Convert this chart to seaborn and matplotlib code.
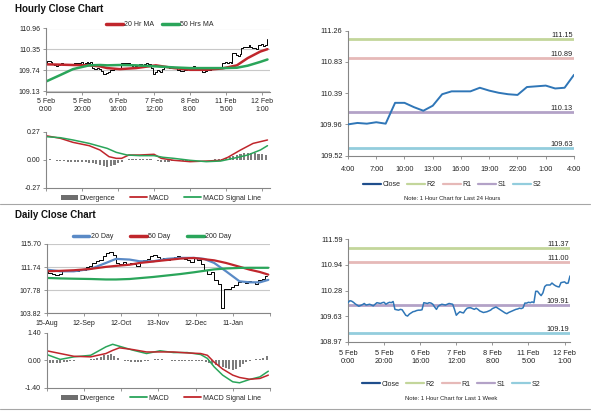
import numpy as np
import pandas as pd
import matplotlib
matplotlib.use("Agg")
import matplotlib.pyplot as plt
import matplotlib.transforms as mtrans
import seaborn as sns
from matplotlib.lines import Line2D
from matplotlib.patches import Patch

sns.set_theme(style="white")
plt.rcParams['font.family'] = ['Liberation Sans', 'DejaVu Sans']

# ---------------- hourly data: 5 Feb 0:00 .. 12 Feb 4:00 ----------------
hourly_close = [
    109.97, 110.02, 110.01, 109.98, 109.94, 109.91, 109.88, 109.90, 109.92, 109.95,
    109.91, 109.92, 109.93, 109.91, 109.89, 109.93, 109.97, 109.96, 109.95, 109.97,
    109.98, 109.93, 109.96, 109.98, 109.97, 110.00, 109.80, 109.79, 109.78, 109.80,
    109.79, 109.72, 109.65, 109.63, 109.68, 109.71, 109.74, 109.75, 109.77, 109.78,
    109.78, 109.79, 109.97, 109.96, 109.95, 109.97, 109.96, 109.93, 109.86, 109.80,
    109.88, 109.91, 109.93, 109.92, 109.91, 109.93, 109.95, 109.94, 109.93, 109.80,
    109.65, 109.70, 109.74, 109.72, 109.71, 109.78, 109.83, 109.84, 109.84, 109.82,
    109.80, 109.83, 109.80, 109.76, 109.74, 109.72, 109.73, 109.74, 109.76, 109.78,
    109.82, 109.84, 109.86, 109.83, 109.80, 109.77, 109.74, 109.71, 109.69, 109.72,
    109.74, 109.76, 109.78, 109.80, 109.81, 109.83, 109.82, 109.84, 109.96, 109.96,
    109.98, 109.97, 109.99, 109.97, 110.26, 110.26, 110.20, 110.15, 110.22, 110.38,
    110.42, 110.42, 110.42, 110.47, 110.43, 110.40, 110.38, 110.37, 110.48, 110.49,
    110.50, 110.46, 110.47, 110.65]
hourly_ticks = ["5 Feb\n0:00", "5 Feb\n20:00", "6 Feb\n16:00", "7 Feb\n12:00",
                "8 Feb\n8:00", "11 Feb\n5:00", "12 Feb\n1:00"]

hr_ma_idx = [0, 8, 15, 24, 30, 34, 41, 50, 61, 71, 80, 89, 98, 106, 112, 119, 123]
hr_ma20 = [109.92, 109.91, 109.90, 109.89, 109.86, 109.81, 109.78, 109.81, 109.89,
           109.81, 109.76, 109.76, 109.80, 109.89, 110.10, 110.29, 110.36]
hr_ma50 = [109.42, 109.61, 109.78, 109.89, 109.90, 109.89, 109.90, 109.89, 109.86,
           109.83, 109.81, 109.81, 109.81, 109.82, 109.88, 109.99, 110.06]

hr_macd_idx = [0, 8, 15, 24, 30, 35, 39, 42, 46, 52, 60, 64, 71, 80, 89, 97, 101, 108, 115, 123]
hr_macd = [0.234, 0.209, 0.170, 0.138, 0.096, 0.032, 0.016, 0.016, 0.048, 0.048,
           0.055, 0.016, -0.003, -0.016, -0.010, -0.003, 0.026, 0.096, 0.160, 0.193]
hr_sig_idx = [0, 8, 15, 24, 34, 39, 45, 52, 60, 65, 71, 80, 89, 97, 104, 112, 119, 123]
hr_sig = [0.225, 0.215, 0.193, 0.160, 0.112, 0.074, 0.048, 0.042, 0.042, 0.026,
          0.016, -0.003, -0.016, -0.010, 0.016, 0.048, 0.096, 0.138]
# divergence, every second hour
hr_div = [0.010, 0.010, 0.000, -0.005, -0.010, -0.012, -0.015, -0.018, -0.020, -0.020,
          -0.022, -0.022, -0.025, -0.030, -0.040, -0.050, -0.060, -0.065, -0.055, -0.045,
          -0.030, -0.015, 0.000, 0.005, 0.005, 0.006, 0.006, 0.008, 0.010, 0.010,
          0.000, -0.010, -0.015, -0.018, -0.015, -0.012, -0.010, -0.010, -0.010, -0.008,
          -0.006, -0.004, -0.003, -0.002, 0.000, 0.002, 0.003, 0.005, 0.006, 0.010,
          0.015, 0.025, 0.035, 0.045, 0.055, 0.065, 0.070, 0.072, 0.068, 0.062,
          0.058, 0.050]

day_ticks = ["4:00", "7:00", "10:00", "13:00", "16:00", "19:00", "22:00", "1:00", "4:00"]
day_levels = {"R2": 111.15, "R1": 110.89, "S1": 110.13, "S2": 109.63}
week_levels = {"R2": 111.37, "R1": 111.00, "S1": 109.91, "S2": 109.19}

# ---------------- daily data: 15 Aug .. Feb, every second trading day ----------------
daily_close = [
    111.0, 110.8, 110.5, 110.3, 110.6, 111.2, 111.1, 111.3, 111.2, 111.1,
    111.4, 111.2, 111.8, 112.0, 112.4, 112.8, 113.0, 113.6, 114.1, 114.4,
    113.8, 112.4, 112.2, 112.6, 112.3, 112.5, 112.2, 111.9, 112.6, 112.9,
    113.2, 113.6, 113.8, 113.5, 113.1, 113.3, 112.9, 113.2, 113.5, 113.7,
    113.5, 113.2, 113.0, 112.6, 113.3, 113.0, 112.3, 111.3, 110.6, 110.9,
    109.6, 108.9, 104.8, 108.0, 107.9, 108.3, 108.6, 109.2, 109.3, 109.0,
    109.4, 109.2, 108.9, 109.5, 109.7, 110.2]
daily_ticks = ["15-Aug", "12-Sep", "12-Oct", "13-Nov", "12-Dec", "11-Jan", ""]

d_ma_idx = [0, 8, 16, 26, 35, 41, 49, 55, 63, 71, 79, 87, 93, 99, 106, 114, 120, 126, 131]
d_ma20 = [111.31, 111.02, 111.02, 111.43, 112.45, 113.15, 113.03, 112.74, 112.74, 113.15,
          113.32, 113.32, 113.15, 112.45, 111.02, 109.30, 109.13, 109.13, 109.55]
d_ma50 = [111.02, 111.10, 111.20, 111.43, 111.78, 111.95, 112.15, 112.45, 112.70, 112.95,
          113.20, 113.30, 113.10, 112.90, 112.45, 111.80, 111.30, 110.90, 110.45]
d_ma200 = [109.88, 109.80, 109.75, 109.70, 109.62, 109.62, 109.70, 109.85, 110.05, 110.30,
           110.55, 110.85, 111.10, 111.35, 111.50, 111.60, 111.62, 111.62, 111.62]

d_macd_idx = [0, 8, 16, 26, 35, 39, 43, 51, 59, 67, 75, 83, 91, 95, 99, 104, 110, 114, 120, 126, 131]
d_macd = [0.29, 0.04, 0.17, 0.25, 0.68, 0.81, 0.71, 0.51, 0.34, 0.48, 0.39, 0.39, 0.29,
          0.09, -0.34, -0.76, -1.10, -1.15, -0.98, -0.85, -0.56]
d_sig = [0.48, 0.34, 0.20, 0.17, 0.34, 0.50, 0.63, 0.54, 0.42, 0.42, 0.42, 0.37, 0.34,
         0.25, -0.10, -0.45, -0.76, -0.88, -0.97, -0.93, -0.76]
d_div = [-0.10, -0.15, -0.15, -0.14, -0.12, -0.10, -0.07, -0.04, -0.02, 0.00,
         0.01, 0.02, 0.03, 0.05, 0.08, 0.12, 0.18, 0.24, 0.28, 0.30,
         0.22, 0.10, 0.02, -0.03, -0.05, -0.07, -0.08, -0.08, -0.07, -0.05,
         -0.02, 0.02, 0.04, 0.05, 0.04, 0.02, 0.00, -0.02, -0.03, -0.03,
         -0.02, -0.02, -0.03, -0.04, -0.03, -0.04, -0.05, -0.08, -0.12, -0.18,
         -0.25, -0.30, -0.35, -0.40, -0.45, -0.48, -0.45, -0.35, -0.20, -0.08,
         -0.02, 0.02, 0.04, 0.06, 0.12, 0.20]

# ---------------- style ----------------
RED = "#c0262c"
GREEN = "#2aa55a"
BLUE20 = "#5a8ac6"
CLOSE = "#2f76b7"
DIVC = "#7d7d7d"
LEVEL_COLORS = {"R2": "#c3d69b", "R1": "#e6b9b8", "S1": "#b3a2c7", "S2": "#93cddd"}
SPINE = "#868686"
GRID = "#c8c8c8"
FS = 5

W, H = 600, 413
fig = plt.figure(figsize=(6, 4.13), dpi=100)
fig.patch.set_facecolor("white")


def px_axes(l, t, r, b):
    return fig.add_axes([l / W, 1 - b / H, (r - l) / W, (b - t) / H])


def style(ax, grid=False, fs=FS, xpad=1.5):
    for s in ["top", "right"]:
        ax.spines[s].set_visible(False)
    for s in ["left", "bottom"]:
        ax.spines[s].set_color(SPINE)
        ax.spines[s].set_linewidth(0.8)
    ax.tick_params(axis="both", which="both", bottom=True, left=True, direction="out",
                   length=2.5, width=0.6, color=SPINE, labelsize=fs, pad=1.5,
                   labelcolor="#222222")
    ax.tick_params(axis="x", pad=xpad)
    if grid:
        ax.grid(axis="y", color=GRID, lw=0.8)
        ax.set_axisbelow(True)
    ax.set_facecolor("white")
    ax.set_xlabel("")
    ax.set_ylabel("")


def set_yt(ax, ticks):
    ax.set_yticks(ticks)
    ax.set_yticklabels([f"{t:.2f}" for t in ticks])


def legend(handles, labels, cx, cy, ncol, hl=2.4, cs=1.2):
    fig.legend(handles, labels, loc="center", bbox_to_anchor=(cx / W, 1 - cy / H),
               ncol=ncol, frameon=False, fontsize=FS, handlelength=hl,
               handletextpad=0.2, columnspacing=cs, borderaxespad=0, borderpad=0)


def levels_plot(ax, lv, fs):
    trans = mtrans.blended_transform_factory(ax.transAxes, ax.transData)
    for name, val in lv.items():
        ax.axhline(val, color=LEVEL_COLORS[name], lw=2.0, zorder=1)
        ax.text(0.995, val, f"{val:.2f}", transform=trans, ha="right", va="bottom",
                fontsize=fs, color="#222222")


hr_x = np.arange(len(hourly_close))

# ---------- hourly price ----------
ax = px_axes(46, 28.5, 270, 91.5)
sns.lineplot(x=hr_x, y=hourly_close, drawstyle="steps-mid", color="black", lw=0.7, ax=ax)
sns.lineplot(x=hr_ma_idx, y=hr_ma20, color=RED, lw=1.8, ax=ax)
sns.lineplot(x=hr_ma_idx, y=hr_ma50, color=GREEN, lw=1.8, ax=ax)
ax.set_xlim(0, 124.4)
ax.set_ylim(109.13, 110.96)
set_yt(ax, [109.13, 109.74, 110.35, 110.96])
ax.set_xticks(range(0, 121, 20))
ax.set_xticklabels(hourly_ticks, linespacing=1.2)
style(ax, grid=True, xpad=2.0)

# ---------- hourly MACD ----------
ax = px_axes(46, 132, 270, 188)
ax.bar(np.arange(len(hr_div)) * 2, hr_div, width=1.2, color=DIVC, lw=0)
sns.lineplot(x=hr_macd_idx, y=hr_macd, color=RED, lw=1.1, ax=ax)
sns.lineplot(x=hr_sig_idx, y=hr_sig, color=GREEN, lw=1.1, ax=ax)
ax.set_xlim(0, 124.4)
ax.set_ylim(-0.27, 0.27)
set_yt(ax, [-0.27, 0.0, 0.27])
ax.set_xticks(range(0, 121, 20))
ax.set_xticklabels([])
style(ax)

# ---------- last 24 hours ----------
ax = px_axes(348, 31, 574, 156)
last = hourly_close[99:]
levels_plot(ax, day_levels, 5.3)
sns.lineplot(x=np.arange(len(last)), y=last, color=CLOSE, lw=1.4, ax=ax, zorder=3)
ax.set_xlim(0, 24)
ax.set_ylim(109.52, 111.26)
set_yt(ax, [109.52, 109.96, 110.39, 110.83, 111.26])
ax.set_xticks(range(0, 25, 3))
ax.set_xticklabels(day_ticks)
style(ax, fs=5.3, xpad=4.5)

# ---------- daily price ----------
dx = np.arange(len(daily_close)) * 2
ax = px_axes(46.7, 244, 270, 313.3)
sns.lineplot(x=dx, y=daily_close, drawstyle="steps-mid", color="black", lw=0.7, ax=ax)
sns.lineplot(x=d_ma_idx, y=d_ma20, color=BLUE20, lw=1.6, ax=ax)
sns.lineplot(x=d_ma_idx, y=d_ma50, color=RED, lw=1.6, ax=ax)
sns.lineplot(x=d_ma_idx, y=d_ma200, color=GREEN, lw=1.6, ax=ax)
ax.set_xlim(0, 132)
ax.set_ylim(103.82, 115.70)
set_yt(ax, [103.82, 107.78, 111.74, 115.70])
ax.set_xticks(range(0, 133, 22))
ax.set_xticklabels(daily_ticks)
style(ax, grid=True, xpad=2.5)

# ---------- daily MACD ----------
ax = px_axes(46.7, 332.7, 270, 387.7)
ax.bar(dx, d_div, width=1.2, color=DIVC, lw=0)
sns.lineplot(x=d_macd_idx, y=d_macd, color=GREEN, lw=1.1, ax=ax)
sns.lineplot(x=d_macd_idx, y=d_sig, color=RED, lw=1.1, ax=ax)
ax.set_xlim(0, 132)
ax.set_ylim(-1.4, 1.4)
set_yt(ax, [-1.40, 0.00, 1.40])
ax.set_xticks(range(0, 133, 22))
ax.set_xticklabels([])
style(ax)

# ---------- last week hourly ----------
ax = px_axes(348, 239, 570, 342)
levels_plot(ax, week_levels, 5.3)
sns.lineplot(x=hr_x, y=hourly_close, color=CLOSE, lw=1.1, ax=ax, zorder=3)
ax.set_xlim(0, 123)
ax.set_ylim(108.97, 111.59)
set_yt(ax, [108.97, 109.63, 110.28, 110.94, 111.59])
ax.set_xticks(range(0, 121, 20))
ax.set_xticklabels(hourly_ticks, linespacing=1.2)
style(ax, fs=5.3, xpad=3.0)

# ---------- legends ----------
legend([Line2D([], [], color=RED, lw=2.5), Line2D([], [], color=GREEN, lw=2.5)],
       ["20 Hr MA", "50 Hrs MA"], 160, 25, 2, hl=2.4, cs=1.1)
div_h = Patch(facecolor="#6e6e6e", edgecolor="none")
legend([div_h, Line2D([], [], color=RED, lw=1.3), Line2D([], [], color=GREEN, lw=1.3)],
       ["Divergence", "MACD", "MACD Signal Line"], 161, 198, 3, hl=2.4, cs=2.2)
legend([Line2D([], [], color=BLUE20, lw=2.5), Line2D([], [], color=RED, lw=2.5),
        Line2D([], [], color=GREEN, lw=2.5)],
       ["20 Day", "50 Day", "200 Day"], 152, 237, 3, hl=2.4, cs=2.4)
legend([div_h, Line2D([], [], color=GREEN, lw=1.3), Line2D([], [], color=RED, lw=1.3)],
       ["Divergence", "MACD", "MACD Signal Line"], 161, 398, 3, hl=2.4, cs=2.2)
lv_handles = [Line2D([], [], color="#1f4e8c", lw=1.6)] + \
    [Line2D([], [], color=LEVEL_COLORS[k], lw=1.6) for k in ["R2", "R1", "S1", "S2"]]
lv_labels = ["Close", "R2", "R1", "S1", "S2"]
legend(lv_handles, lv_labels, 452, 185, 5, hl=2.6, cs=1.0)
legend(lv_handles, lv_labels, 451, 384, 5, hl=2.6, cs=1.0)

# ---------- titles, notes, separators ----------
fig.text(15 / W, 1 - 9 / H, "Hourly Close Chart", fontsize=7, weight="bold", va="center",
         color="#111111")
fig.text(15 / W, 1 - 215 / H, "Daily Close Chart", fontsize=7, weight="bold", va="center",
         color="#111111")
fig.text(452 / W, 1 - 199 / H, "Note: 1 Hour Chart for Last 24 Hours", fontsize=4.2,
         ha="center", va="center", color="#222222")
fig.text(451 / W, 1 - 398 / H, "Note: 1 Hour Chart for Last 1 Week", fontsize=4.2,
         ha="center", va="center", color="#222222")
for yy in [204.5, 409]:
    fig.add_artist(Line2D([0, 590 / W], [1 - yy / H] * 2, color="#a6a6a6", lw=0.8))

fig.savefig("out.png", dpi=100, facecolor="white")
